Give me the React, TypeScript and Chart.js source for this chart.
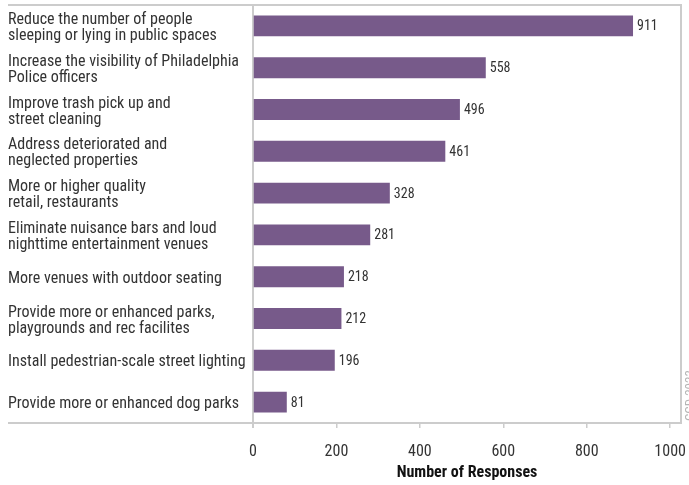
import { useEffect, useRef } from "react";
import { Chart, registerables } from "chart.js";

Chart.register(...registerables);

const categories: (string | string[])[] = [
  ["Reduce the number of people", "sleeping or lying in public spaces"],
  ["Increase the visibility of Philadelphia", "Police officers"],
  ["Improve trash pick up and", "street cleaning"],
  ["Address deteriorated and", "neglected properties"],
  ["More or higher quality", "retail, restaurants"],
  ["Eliminate nuisance bars and loud", "nighttime entertainment venues"],
  "More venues with outdoor seating",
  ["Provide more or enhanced parks,", "playgrounds and rec facilites"],
  "Install pedestrian-scale street lighting",
  "Provide more or enhanced dog parks",
];
const responses = [911, 558, 496, 461, 328, 281, 218, 212, 196, 81];
const xTicks = [0, 200, 400, 600, 800, 1000];
const xMax = 1026;
const axisTitle = "Number of Responses";
const sourceNote = "CCD 2023";

const FONT = "'Liberation Sans Narrow', 'Roboto Condensed', 'Arial Narrow', sans-serif";
const GRID = "#cccccc";
const TEXT = "#333333";
const BAR = "#775a8a";

const framePlugin = {
  id: "frame",
  beforeDatasetsDraw(chart: any) {
    const { ctx, chartArea } = chart;
    const { left, right, top, bottom } = chartArea;
    ctx.save();
    ctx.strokeStyle = GRID;
    ctx.lineWidth = 2;
    ctx.beginPath();
    ctx.moveTo(8, top);
    ctx.lineTo(right, top);
    ctx.moveTo(8, bottom);
    ctx.lineTo(right, bottom);
    ctx.moveTo(left, top - 1);
    ctx.lineTo(left, bottom + 5);
    ctx.moveTo(right, top - 1);
    ctx.lineTo(right, bottom + 1);
    ctx.stroke();
    ctx.restore();
  },
  afterDatasetsDraw(chart: any) {
    const { ctx, chartArea } = chart;
    const meta = chart.getDatasetMeta(0);
    ctx.save();
    ctx.font = `14px ${FONT}`;
    ctx.fillStyle = TEXT;
    ctx.textAlign = "left";
    ctx.textBaseline = "middle";
    meta.data.forEach((bar: any, i: number) => {
      ctx.fillText(String(responses[i]), bar.x + 4, bar.y + 1);
    });
    // rotated source note at right edge
    ctx.translate(694, chartArea.bottom - 2);
    ctx.rotate(-Math.PI / 2);
    ctx.font = `13px ${FONT}`;
    ctx.fillStyle = "#b5b5b5";
    ctx.textBaseline = "alphabetic";
    ctx.fillText(sourceNote, 0, 0);
    ctx.restore();
  },
};

export default function App() {
  const ref = useRef<HTMLCanvasElement>(null);
  useEffect(() => {
    if (!ref.current) return;
    const chart = new Chart(ref.current, {
      type: "bar",
      data: {
        labels: categories,
        datasets: [
          {
            data: responses,
            backgroundColor: BAR,
            borderWidth: 0,
            barPercentage: 0.5,
            categoryPercentage: 1,
          },
        ],
      },
      options: {
        indexAxis: "y",
        responsive: false,
        animation: false,
        maintainAspectRatio: false,
        layout: { padding: { top: 5, right: 8, left: 8, bottom: 0 } },
        plugins: {
          legend: { display: false },
          tooltip: { enabled: false },
        },
        scales: {
          y: {
            grid: { display: false },
            border: { display: false },
            ticks: {
              crossAlign: "far",
              color: TEXT,
              font: { family: FONT, size: 16, lineHeight: 1.0 },
              padding: 0,
              labelOffset: 2,
            },
            afterFit(scale: any) {
              scale.width = 245;
              scale.paddingTop = 0;
              scale.paddingBottom = 0;
            },
          },
          x: {
            min: 0,
            max: xMax,
            grid: {
              display: true,
              drawOnChartArea: false,
              tickLength: 5,
              color: GRID,
              lineWidth: 1.5,
            },
            border: { display: false },
            afterBuildTicks(scale: any) {
              scale.ticks = xTicks.map((v) => ({ value: v }));
            },
            ticks: {
              color: TEXT,
              font: { family: FONT, size: 16 },
              padding: 14,
              maxRotation: 0,
              callback: (v: any) => String(v),
            },
            title: {
              display: true,
              text: axisTitle,
              color: "#111111",
              font: { family: FONT, size: 16, weight: "bold" },
              padding: { top: 4, bottom: 2 },
            },
            afterFit(scale: any) {
              scale.height = 62;
              scale.paddingLeft = 0;
              scale.paddingRight = 0;
            },
          },
        },
      },
      plugins: [framePlugin],
    });
    return () => chart.destroy();
  }, []);
  return (
    <div style={{ position: "absolute", left: 0, top: 0, width: 689, height: 485, background: "#fff" }}>
      <canvas ref={ref} width={689} height={485} style={{ display: "block" }} />
    </div>
  );
}
